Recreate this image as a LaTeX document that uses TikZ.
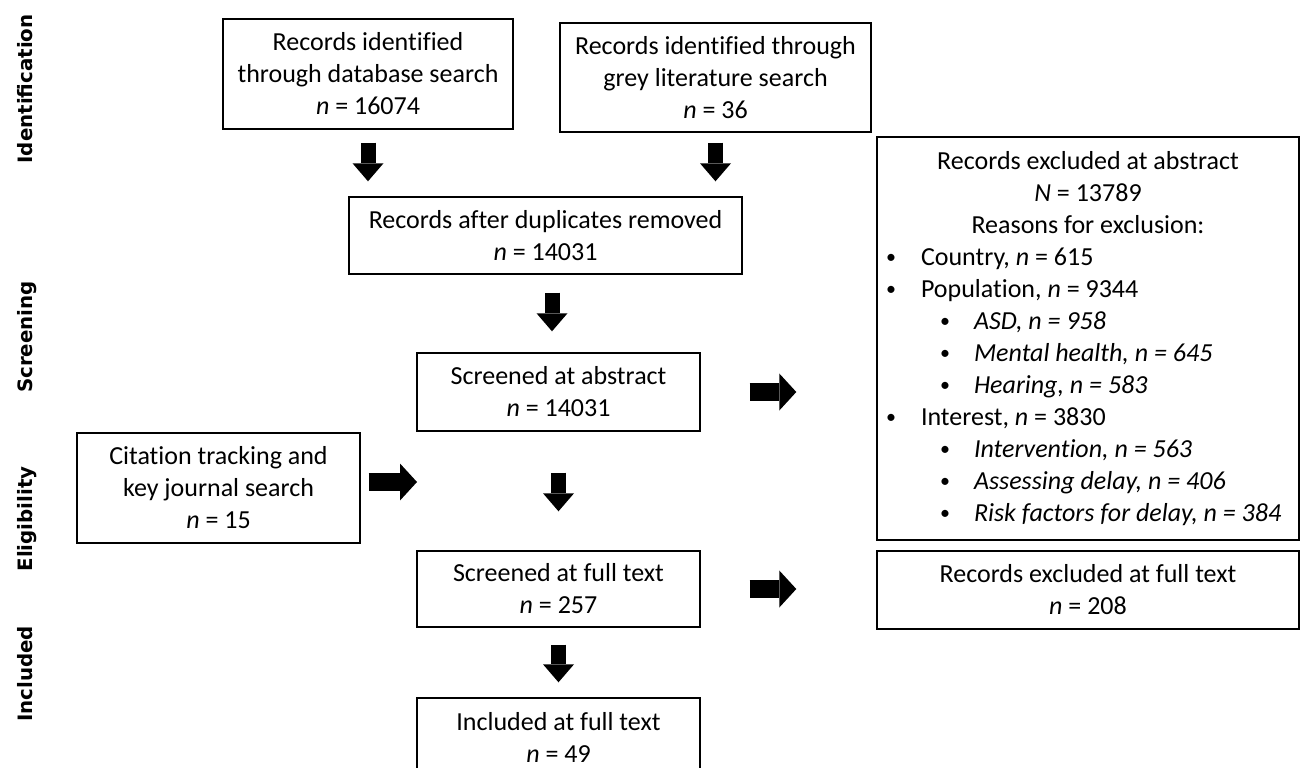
\documentclass[tikz,border=0pt]{standalone}
\usepackage{fontspec}
\setmainfont{Carlito}[Ligatures=NoCommon]
\newfontfamily\sidefont{DejaVu Sans}
\usetikzlibrary{arrows.meta,calc}

% small list bullet
\newcommand{\lbul}{\raisebox{1.5pt}{\fontsize{20}{20}\selectfont\textbullet}}

\begin{document}
\begin{tikzpicture}[x=1pt,y=-1pt,
  box/.style={draw=black, line width=1.4pt, inner sep=0pt, align=center,
    font=\fontsize{26}{32}\selectfont},
  phase/.style={rotate=90, anchor=base, inner sep=0pt,
    font=\sidefont\bfseries\fontsize{19.8}{24}\selectfont},
  downarrow/.style={line width=15pt,
    -{Triangle[width=31pt,length=18pt,line width=0pt]}},
  rightarrow/.style={line width=18pt,
    -{Triangle[width=37pt,length=17pt,line width=0pt]}},
]
\useasboundingbox (0,0) rectangle (1304,768);
\fill[white] (0,0) rectangle (1304,768);
\clip (0,0) rectangle (1304,768);

% phase labels
\node[phase] (pid)  at (32,89)  {Identification};
\node[phase] (pscr) at (32,337) {Screening};
\node[phase] (pel)  at (32,519) {Eligibility};
\node[phase] (pinc) at (32,674) {Included};

% flow boxes
\node[box, minimum width=290pt, minimum height=110pt] (A) at (368,74)
  {Records identified\\through database search\\\textit{n} = 16074};
\node[box, minimum width=311pt, minimum height=109pt] (B) at (715.5,77.5)
  {Records identified through\\grey literature search\\\textit{n} = 36};
\node[box, minimum width=393pt, minimum height=77pt] (C) at (545.5,235.5)
  {Records after duplicates removed\\\textit{n} = 14031};
\node[box, minimum width=283pt, minimum height=78pt] (D) at (558.5,392)
  {Screened at abstract\\\textit{n} = 14031};
\node[box, minimum width=283pt, minimum height=110pt] (G) at (218.5,488)
  {Citation tracking and\\key journal search\\\textit{n} = 15};
\node[box, minimum width=283pt, minimum height=76pt] (H) at (558.5,589)
  {Screened at full text\\\textit{n} = 257};
\node[box, minimum width=283pt, minimum height=78pt] (I) at (558.5,737)
  {Included at full text\\\textit{n} = 49};
\node[box, minimum width=422pt, minimum height=78pt] (F) at (1088,590)
  {Records excluded at full text\\\textit{n} = 208};
\node[box, minimum width=422pt, minimum height=403pt] (E) at (1088,338.5)
  {\begin{minipage}{422pt}\centering
   Records excluded at abstract\\
   \textit{N} = 13789\\
   Reasons for exclusion:\par\raggedright
   \hspace*{9pt}\makebox[35pt][l]{\lbul}Country, \textit{n} = 615\\
   \hspace*{9pt}\makebox[35pt][l]{\lbul}Population, \textit{n} = 9344\\
   \hspace*{63pt}\makebox[34pt][l]{\lbul}\textit{ASD, n = 958}\\
   \hspace*{63pt}\makebox[34pt][l]{\lbul}\textit{Mental health, n = 645}\\
   \hspace*{63pt}\makebox[34pt][l]{\lbul}\textit{Hearing, n = 583}\\
   \hspace*{9pt}\makebox[35pt][l]{\lbul}Interest, \textit{n} = 3830\\
   \hspace*{63pt}\makebox[34pt][l]{\lbul}\textit{Intervention, n = 563}\\
   \hspace*{63pt}\makebox[34pt][l]{\lbul}\textit{Assessing delay, n = 406}\\
   \hspace*{63pt}\makebox[34pt][l]{\lbul}\textit{Risk factors for delay, n = 384}
   \end{minipage}};

% block arrows
\draw[downarrow, shorten <=13pt, shorten >=15pt] (A.south) -- (A.south |- C.north);
\draw[downarrow, shorten <=10pt, shorten >=15pt] (B.south) -- (B.south |- C.north);
\coordinate (cd) at ($(C.south)!0.5!(D.north)$);
\draw[downarrow, shorten <=18pt, shorten >=21pt] (cd |- C.south) -- (cd |- D.north);
\draw[downarrow, shorten <=41pt, shorten >=39pt] (D.south) -- (H.north);
\draw[downarrow, shorten <=17pt, shorten >=15pt] (H.south) -- (I.north);

\draw[rightarrow, shorten <=49pt, shorten >=80pt] (D.east) -- (D.east -| E.west);
\coordinate (gtip) at (417,482);
\draw[rightarrow, shorten <=8pt] (G.east |- gtip) -- (gtip);
\draw[rightarrow, shorten <=49pt, shorten >=80pt] (H.east) -- (H.east -| F.west);
\end{tikzpicture}
\end{document}
